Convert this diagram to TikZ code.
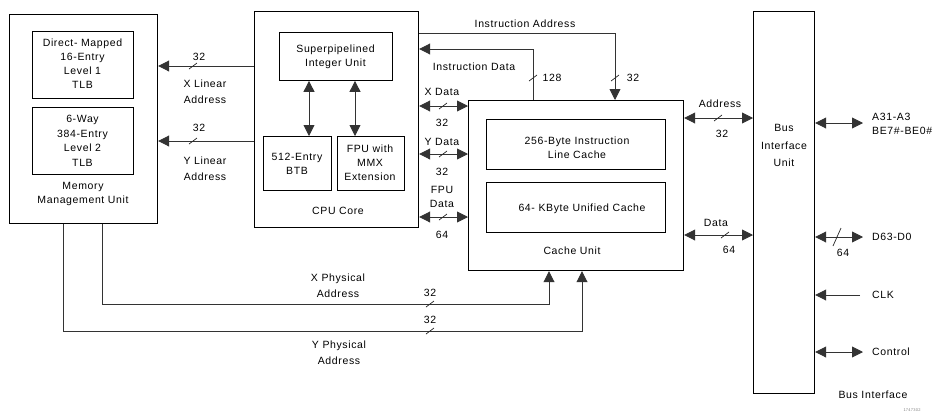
\documentclass[tikz,border=0pt]{standalone}
\usepackage{fontspec}
\setmainfont{Liberation Sans}[LetterSpace=6]
\usetikzlibrary{arrows.meta}
\tikzset{
  box/.style={draw, line width=1.2pt, inner sep=0pt, anchor=north west},
  inbox/.style={draw, line width=0.9pt, inner sep=0pt, anchor=north west},
  conn/.style={line width=0.9pt, draw=black!80},
  lbl/.style={inner sep=0pt, align=center, font=\fontsize{10.5}{14}\selectfont},
  lblw/.style={lbl, anchor=west, align=left},
  >={Triangle[length=11pt,width=11pt]},
  slash/.pic={\draw[line width=0.7pt, black!85] (-4,3) -- (4,-3);},
  bigslash/.pic={\draw[line width=0.7pt, black!85] (-4,9) -- (4,-9);}
}
\begin{document}
\begin{tikzpicture}[x=1pt, y=-1pt]
\useasboundingbox (0,0) rectangle (935,416);
% Memory management unit
\node[box, minimum width=148, minimum height=209] (mmu) at (9,14) {};
\node[inbox, minimum width=101, minimum height=67] (tlb1) at (32,31) {};
\node[inbox, minimum width=101, minimum height=67] (tlb2) at (32,107) {};
\node[lbl] (tlb1t) at (82.5,64) {Direct- Mapped\\16-Entry\\Level 1\\TLB};
\node[lbl, font=\fontsize{10.5}{14.6}\selectfont] (tlb2t) at (82.5,141) {6-Way\\384-Entry\\Level 2\\TLB};
\node[lbl] (mmut) at (83,194) {Memory\\Management Unit};
% CPU core
\node[box, minimum width=164, minimum height=216] (cpu) at (254,11) {};
\node[inbox, minimum width=113, minimum height=48] (sip) at (279,32) {};
\node[inbox, minimum width=68, minimum height=54] (btb) at (263,136) {};
\node[inbox, minimum width=67, minimum height=54] (fpu) at (337,136) {};
\node[lbl] (sipt) at (335.5,57) {Superpipelined\\Integer Unit};
\node[lbl] (btbt) at (297,164) {512-Entry\\BTB};
\node[lbl] (fput) at (370,162.5) {FPU with\\MMX\\Extension};
\node[lbl] (cput) at (338,211) {CPU Core};
\draw[conn,<->] (sip.south -| 309,0) -- (btb.north -| 309,0);
\draw[conn,<->] (sip.south -| 355,0) -- (fpu.north -| 355,0);
% Cache unit
\node[box, minimum width=215, minimum height=170] (cache) at (468,100) {};
\node[inbox, minimum width=179, minimum height=50] (ilc) at (486,119) {};
\node[inbox, minimum width=179, minimum height=50] (uc) at (486,182) {};
\node[lbl] (ilct) at (577,148) {256-Byte Instruction\\Line Cache};
\node[lbl] (uct) at (582,209) {64- KByte Unified Cache};
\node[lbl] (cachet) at (572,251) {Cache Unit};
% Bus interface unit
\node[box, minimum width=61, minimum height=382] (biu) at (753,11) {};
\node[lbl, font=\fontsize{10.5}{17.5}\selectfont] (biut) at (784,145.5) {Bus\\Interface\\Unit};
\node[lbl] (bift) at (873,395) {Bus Interface};
% linear address
\draw[conn,->] (cpu.west |- 0,66) -- (mmu.east |- 0,66);
\draw[conn,->] (cpu.west |- 0,141) -- (mmu.east |- 0,141);
\pic at (193,66) {slash};
\pic at (193,141) {slash};
\node[lbl] (xl32) at (199,57) {32};
\node[lbl] (yl32) at (199,128) {32};
\node[lbl, font=\fontsize{10.5}{16}\selectfont] (xlt) at (205,92) {X Linear\\Address};
\node[lbl, font=\fontsize{10.5}{16}\selectfont] (ylt) at (205,169) {Y Linear\\Address};
% instruction address / data
\draw[conn,->] (cpu.east |- 0,33) -| (cache.north -| 615,0);
\draw[conn,->] (cache.north -| 533,0) |- (cpu.east |- 0,49);
\pic at (533,78) {slash};
\pic at (615,78) {slash};
\node[lbl] (iat) at (525,24) {Instruction Address};
\node[lbl] (idt) at (474,67) {Instruction Data};
\node[lbl] (i128) at (552,78) {128};
\node[lbl] (i32) at (633,78) {32};
% data buses CPU <-> cache
\draw[conn,<->] (cpu.east |- 0,106) -- (cache.west |- 0,106);
\draw[conn,<->] (cpu.east |- 0,154) -- (cache.west |- 0,154);
\draw[conn,<->] (cpu.east |- 0,217) -- (cache.west |- 0,217);
\pic at (443,106) {slash};
\pic at (443,154) {slash};
\pic at (443,217) {slash};
\node[lbl] (xdt) at (442,92) {X Data};
\node[lbl] (xd32) at (442,123) {32};
\node[lbl] (ydt) at (442,142) {Y Data};
\node[lbl] (yd32) at (442,172) {32};
\node[lbl] (fdt) at (442,197) {FPU\\Data};
\node[lbl] (fd64) at (442,235) {64};
% cache <-> BIU
\draw[conn,<->] (cache.east |- 0,118) -- (biu.west |- 0,118);
\draw[conn,<->] (cache.east |- 0,235) -- (biu.west |- 0,235);
\pic at (718,118) {slash};
\pic at (725,235) {slash};
\node[lbl] (adt) at (720,104) {Address};
\node[lbl] (ad32) at (722,134) {32};
\node[lbl] (dat) at (716,223) {Data};
\node[lbl] (da64) at (729,250) {64};
% physical address
\coordinate (xp1) at (102,304);
\coordinate (xp2) at (549,304);
\coordinate (yp1) at (63,331);
\coordinate (yp2) at (582,331);
\draw[conn,->] (mmu.south -| xp1) -- (xp1) -- (xp2) -- (cache.south -| xp2);
\draw[conn,->] (mmu.south -| yp1) -- (yp1) -- (yp2) -- (cache.south -| yp2);
\pic at (430,304) {slash};
\pic at (430,331) {slash};
\node[lbl] (xp32) at (430,293) {32};
\node[lbl] (yp32) at (430,320) {32};
\node[lbl, font=\fontsize{10.5}{16}\selectfont] (xpt) at (338,286) {X Physical\\Address};
\node[lbl, font=\fontsize{10.5}{16}\selectfont] (ypt) at (339,352.5) {Y Physical\\Address};
% external signals
\coordinate (ea) at (863,123);
\coordinate (ed) at (863,237);
\coordinate (ec) at (860,295);
\coordinate (ect) at (863,352);
\draw[conn,<->] (biu.east |- ea) -- (ea);
\draw[conn,<->] (biu.east |- ed) -- (ed);
\draw[conn,->] (ec) -- (biu.east |- ec);
\draw[conn,<->] (biu.east |- ect) -- (ect);
\pic at (837,237) {bigslash};
\node[lblw] (eat) at (872,124) {A31-A3\\BE7\#-BE0\#};
\node[lblw] (edt) at (872,237) {D63-D0};
\node[lbl] (ed64) at (843,253) {64};
\node[lblw] (ect1) at (872,295) {CLK};
\node[lblw] (ectt) at (872,352) {Control};
\node[inner sep=0pt, font=\fontsize{4}{4}\selectfont, text=black!50] (fig) at (912,410) {1747302};
\end{tikzpicture}
\end{document}
